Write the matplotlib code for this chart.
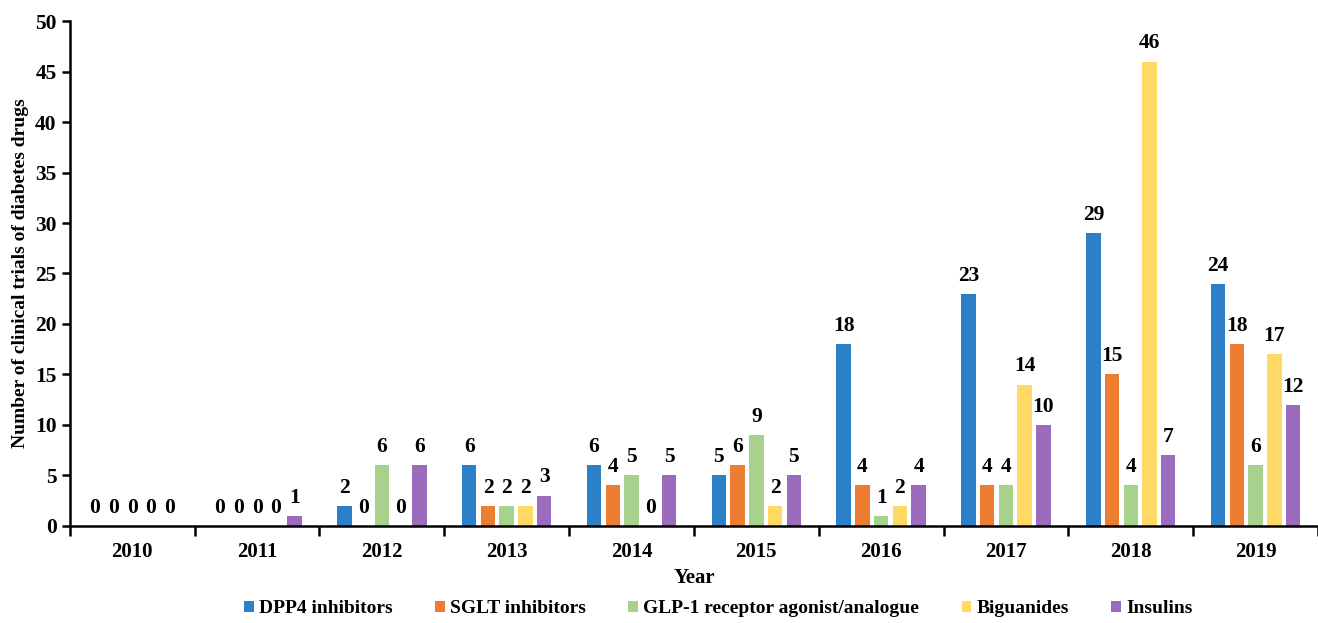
import numpy as np
import matplotlib.pyplot as plt

years = ['2010', '2011', '2012', '2013', '2014', '2015', '2016', '2017', '2018', '2019']
series_names = ['DPP4 inhibitors', 'SGLT inhibitors', 'GLP-1 receptor agonist/analogue',
                'Biguanides', 'Insulins']
dpp4 = [0, 0, 2, 6, 6, 5, 18, 23, 29, 24]
sglt = [0, 0, 0, 2, 4, 6, 4, 4, 15, 18]
glp1 = [0, 0, 6, 2, 5, 9, 1, 4, 4, 6]
biguanides = [0, 0, 0, 2, 0, 2, 2, 14, 46, 17]
insulins = [0, 1, 6, 3, 5, 5, 4, 10, 7, 12]
colors = ['#2b80c8', '#ed7d31', '#a9d18e', '#ffd966', '#9b6bbd']

plt.rcParams['font.family'] = ['Liberation Serif', 'DejaVu Serif']
plt.rcParams['font.weight'] = 'bold'

fig = plt.figure(figsize=(13.18, 6.23), dpi=100)
ax = fig.add_axes([0.053, 0.156, 0.947, 0.81])

data = [dpp4, sglt, glp1, biguanides, insulins]
x = np.arange(len(years))
step = 0.15
width = 0.116
for i, (vals, name, c) in enumerate(zip(data, series_names, colors)):
    pos = x + (i - 2) * step
    ax.bar(pos, vals, width, color=c, label=name)
    # value labels above each bar
    for p, v in zip(pos, vals):
        ax.text(p, v + 0.8, str(v), ha='center', va='bottom', fontsize=15.5, fontweight='bold')

ax.set_xlim(-0.5, len(years) - 0.5)
ax.set_ylim(0, 50)
ax.set_yticks(range(0, 51, 5))
ax.set_xticks(x)
ax.set_xticklabels(years)
ax.set_xticks(np.arange(len(years) + 1) - 0.5, minor=True)
ax.tick_params(axis='x', which='major', length=0, pad=12, labelsize=15)
ax.tick_params(axis='x', which='minor', length=7, width=1.8, direction='out')
ax.tick_params(axis='y', length=6, width=1.8, labelsize=15.5)
for lbl in ax.get_xticklabels() + ax.get_yticklabels():
    lbl.set_fontweight('bold')

for s in ['top', 'right']:
    ax.spines[s].set_visible(False)
for s in ['left', 'bottom']:
    ax.spines[s].set_linewidth(1.8)

ax.set_xlabel('Year', fontsize=15, fontweight='bold', labelpad=4)
ax.set_ylabel('Number of clinical trials of diabetes drugs', fontsize=14, fontweight='bold', labelpad=4)

ax.legend(loc='center', bbox_to_anchor=(0.545, 0.0225), bbox_transform=fig.transFigure,
          ncol=5, frameon=False, handlelength=0.5, handleheight=0.5, handletextpad=0.25,
          columnspacing=2.2, prop={'weight': 'bold', 'size': 14})

fig.savefig('out.png', dpi=100)
